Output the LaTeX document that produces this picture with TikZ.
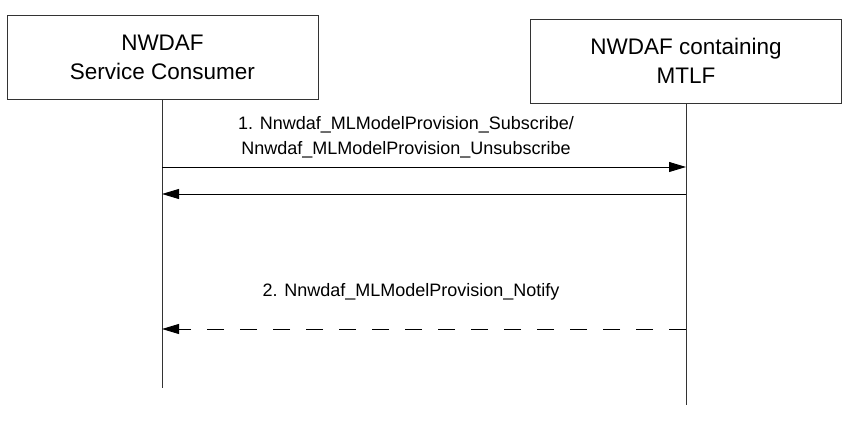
\documentclass[tikz,border=0pt]{standalone}
\usepackage{fontspec}
\setmainfont{Liberation Sans}
\usetikzlibrary{arrows.meta}
\begin{document}
\begin{tikzpicture}[x=1pt,y=1pt,
  entity/.style={draw=black!80, line width=0.9pt, minimum width=311pt, minimum height=84pt, align=center, inner sep=0pt, font=\fontsize{22.5}{29}\selectfont},
  life/.style={line width=0.9pt, draw=black!80},
  msg/.style={line width=0.9pt, -{Triangle[length=17pt,width=10pt]}},
  lbl/.style={align=center, inner sep=0pt, font=\fontsize{18}{25}\selectfont}]
\useasboundingbox (0,0) rectangle (853,420);
\node[entity] (cons) at (162.5,363) {NWDAF\\Service Consumer};
\node[entity] (mtlf) at (686,359) {NWDAF containing\\MTLF};
\coordinate (cEnd) at (162,32);
\coordinate (mEnd) at (686,15);
\draw[life] (cons.south -| cEnd) -- (cEnd);
\draw[life] (mtlf.south) -- (mEnd);
\coordinate (a1s) at (162,253);
\coordinate (a1e) at (686,253);
\coordinate (a2s) at (686,226);
\coordinate (a2e) at (162,226);
\coordinate (a3s) at (686,91);
\coordinate (a3e) at (162,91);
\draw[msg] (a1s) -- (a1e);
\draw[msg] (a2s) -- (a2e);
\draw[msg, dash pattern=on 17pt off 16pt] (a3s) -- (a3e);
\node[lbl] (l1) at (406,283) {1. Nnwdaf\_MLModelProvision\_Subscribe/\\Nnwdaf\_MLModelProvision\_Unsubscribe};
\node[lbl] (l2) at (411,128) {2. Nnwdaf\_MLModelProvision\_Notify};
\end{tikzpicture}
\end{document}
